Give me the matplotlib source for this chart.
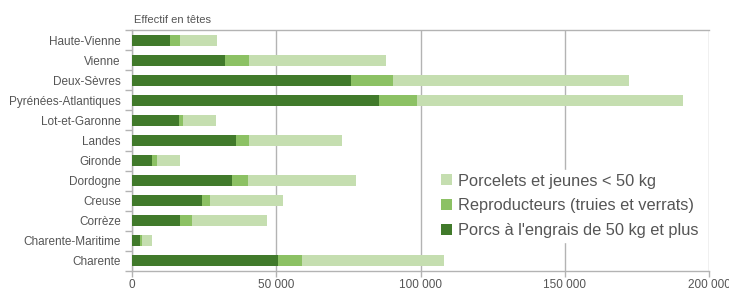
#!/usr/bin/env python3
# -*- coding: utf-8 -*-

"""
Cheptel porcin par departement (effectif en tetes), barres empilees.
"""

import numpy as np
import matplotlib
matplotlib.use("Agg")
import matplotlib.pyplot as plt
from matplotlib.ticker import FuncFormatter, FixedLocator

# ===============================
# Data
# ===============================

departements = ["Haute-Vienne", "Vienne", "Deux-Sèvres", "Pyrénées-Atlantiques",
                "Lot-et-Garonne", "Landes", "Gironde", "Dordogne", "Creuse",
                "Corrèze", "Charente-Maritime", "Charente"]

engrais = [13200, 32200, 75900, 85600, 16300, 36000, 6900, 34600, 24200, 16600, 2800, 50600]
reproducteurs = [3400, 8300, 14500, 13100, 1400, 4500, 1800, 5600, 2800, 4200, 700, 8300]
porcelets = [12800, 47700, 82000, 92400, 11400, 32200, 7900, 37400, 25300, 26000, 3400, 49200]

labels = ["Porcelets et jeunes < 50 kg",
          "Reproducteurs (truies et verrats)",
          "Porcs à l'engrais de 50 kg et plus"]

xticks = [0, 50000, 100000, 150000, 200000]

# ===============================
# Plot
# ===============================

plt.rcParams['font.family'] = ['Liberation Sans', 'DejaVu Sans']

c_dark = "#417A2B"
c_mid = "#8CC164"
c_light = "#C5DEB0"
grey = "#B3B3B3"
txt = "#555555"

fig = plt.figure(figsize=(7.29, 2.89), dpi=100)
ax = fig.add_axes([132 / 729, 18 / 289, 577 / 729, 241 / 289])

n = len(departements)
pos = np.arange(n)[::-1]
engrais = np.array(engrais)
reproducteurs = np.array(reproducteurs)
porcelets = np.array(porcelets)

h = 0.55
b1 = ax.barh(pos, engrais, height=h, color=c_dark, zorder=3)
b2 = ax.barh(pos, reproducteurs, left=engrais, height=h, color=c_mid, zorder=3)
b3 = ax.barh(pos, porcelets, left=engrais + reproducteurs, height=h, color=c_light, zorder=3)

ax.set_xlim(0, 200000)
ax.set_ylim(-0.5, n - 0.5)
ax.set_xticks(xticks)
ax.xaxis.set_major_formatter(FuncFormatter(lambda v, p: format(int(v), ",").replace(",", " ")))
ax.grid(axis="x", color=grey, linewidth=1.0, zorder=0)

ax.set_yticks(pos)
ax.set_yticklabels(departements)
ax.yaxis.set_minor_locator(FixedLocator(np.arange(-0.5, n, 1.0)))
ax.tick_params(axis="y", which="major", length=0, pad=8, labelsize=8.5, labelcolor=txt)
ax.tick_params(axis="y", which="minor", length=5, color=grey, width=1)
ax.tick_params(axis="x", length=4, color=grey, width=1, labelsize=8.5, labelcolor=txt, pad=1.5)

for s in ["left", "bottom", "top"]:
    ax.spines[s].set_color(grey)
    ax.spines[s].set_linewidth(1)
ax.spines["right"].set_visible(False)

ax.text(0.003, 1.02, "Effectif en têtes", transform=ax.transAxes, fontsize=8,
        color=txt, ha="left", va="bottom")

leg = ax.legend([b3, b2, b1], labels, loc="center left", bbox_to_anchor=(0.516, 0.27),
                frameon=True, fontsize=11.8, handlelength=0.65, handleheight=0.65,
                handletextpad=0.35, labelspacing=0.6, borderpad=0.2)
leg.get_frame().set_edgecolor("white")
leg.get_frame().set_facecolor("white")
leg.get_frame().set_alpha(1)
for t in leg.get_texts():
    t.set_color(txt)

fig.savefig("out.png", dpi=100)
